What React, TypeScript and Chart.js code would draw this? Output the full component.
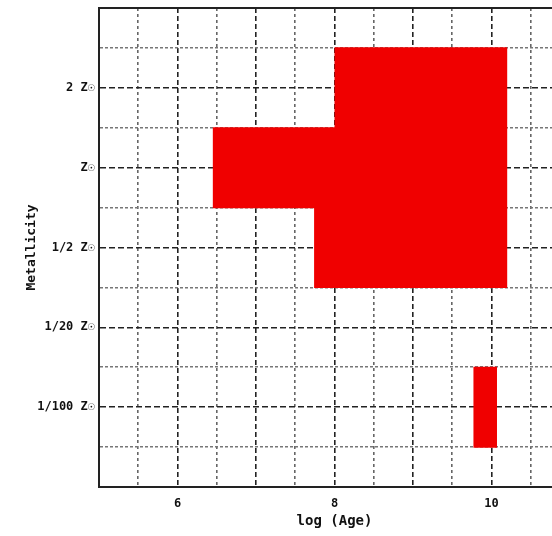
import React, { useEffect, useRef } from "react";
import { Chart, registerables } from "chart.js";

Chart.register(...registerables);

// Metallicity bins, bottom to top
const metallicityLabels = ["1/100 Z\u2609", "1/20 Z\u2609", "1/2 Z\u2609", "Z\u2609", "2 Z\u2609"];
// log(Age) coverage of each metallicity bin (null = not covered)
const ageStart: (number | null)[] = [9.77, null, 7.74, 6.45, 8.0];
const ageEnd: (number | null)[] = [10.07, null, 10.2, 10.2, 10.2];
// Labelled log(Age) ticks
const ageTickLabels = [6, 8, 10];

const AGE_MIN = 5;
const AGE_MAX = 11;
const FONT = "'DejaVu Sans Mono', monospace";

// each bin occupies two units on the vertical axis
const rowOf = (i: number) => 2 * (i + 1);

const topFrame = {
  id: "topFrame",
  afterDraw(chart: Chart) {
    const { ctx, chartArea } = chart;
    ctx.save();
    ctx.strokeStyle = "#222";
    ctx.lineWidth = 2;
    ctx.beginPath();
    ctx.moveTo(chartArea.left - 1, chartArea.top);
    ctx.lineTo(chartArea.right, chartArea.top);
    ctx.stroke();
    ctx.restore();
  },
};

export default function App() {
  const ref = useRef<HTMLCanvasElement | null>(null);

  useEffect(() => {
    if (!ref.current) return;
    const points = metallicityLabels
      .map((_, i) =>
        ageStart[i] === null ? null : { y: rowOf(i), x: [ageStart[i], ageEnd[i]] }
      )
      .filter((p) => p !== null);

    const chart = new Chart(ref.current, {
      type: "bar",
      data: {
        datasets: [
          {
            data: points as any,
            backgroundColor: "rgb(240,0,0)",
            borderWidth: 0,
            // grid ticks sit one unit apart; each bin spans two units
            // (slightly more so adjacent bins join without a seam)
            barPercentage: 2.03,
            categoryPercentage: 1,
          },
        ],
      },
      options: {
        indexAxis: "y",
        responsive: false,
        animation: false,
        layout: { padding: { top: 8, left: 0, right: 0, bottom: 0 } },
        plugins: { legend: { display: false }, tooltip: { enabled: false } },
        scales: {
          x: {
            type: "linear",
            min: AGE_MIN,
            max: AGE_MAX,
            afterFit: (s: any) => {
              s.height = 49;
            },
            afterBuildTicks: (s: any) => {
              const t = [];
              for (let v = AGE_MIN; v <= AGE_MAX + 1e-9; v += 0.5) t.push({ value: v });
              s.ticks = t;
            },
            ticks: {
              autoSkip: false,
              maxRotation: 0,
              padding: 10,
              color: "#111",
              font: { family: FONT, size: 12, weight: "bold" },
              callback: (v: any) => (ageTickLabels.includes(Number(v)) ? String(v) : ""),
            },
            grid: {
              drawTicks: false,
              color: (c: any) =>
                c.tick && Number.isInteger(c.tick.value) ? "#222" : "#666",
              lineWidth: 1.6,
            },
            border: {
              display: true,
              color: "#222",
              width: 2,
              dash: (c: any) =>
                c.tick && Number.isInteger(c.tick.value) ? [5, 3] : [3, 3],
            },
            title: {
              display: true,
              text: "log (Age)",
              color: "#111",
              font: { family: FONT, size: 14, weight: "bold" },
              padding: { top: 0, bottom: 6 },
            },
          },
          y: {
            type: "linear",
            min: 0,
            max: 12,
            offset: false,
            afterFit: (s: any) => {
              s.width = 99;
              s.paddingTop = 0;
              s.paddingBottom = 0;
            },
            ticks: {
              stepSize: 1,
              autoSkip: false,
              padding: 4,
              color: "#111",
              font: { family: FONT, size: 12, weight: "bold" },
              callback: (v: any) => {
                const n = Number(v);
                const i = n / 2 - 1;
                return Number.isInteger(i) && i >= 0 && i < metallicityLabels.length
                  ? metallicityLabels[i]
                  : "";
              },
            },
            grid: {
              offset: false,
              drawTicks: false,
              color: (c: any) =>
                c.tick && c.tick.value % 2 === 0 ? "#222" : "#777",
              lineWidth: 1.6,
            },
            border: {
              display: true,
              color: "#222",
              width: 2,
              dash: (c: any) =>
                c.tick && c.tick.value % 2 === 0 ? [6, 3] : [3, 2],
            },
            title: {
              display: true,
              text: "Metallicity",
              color: "#111",
              font: { family: FONT, size: 13, weight: "bold" },
              padding: { top: 24, bottom: 0 },
            },
          },
        },
      },
      plugins: [topFrame],
    });
    return () => chart.destroy();
  }, []);

  return (
    <div
      style={{
        position: "absolute",
        left: 0,
        top: 0,
        width: 552,
        height: 536,
        overflow: "hidden",
        background: "#fff",
      }}
    >
      <canvas ref={ref} width={580} height={536} style={{ display: "block" }} />
    </div>
  );
}
